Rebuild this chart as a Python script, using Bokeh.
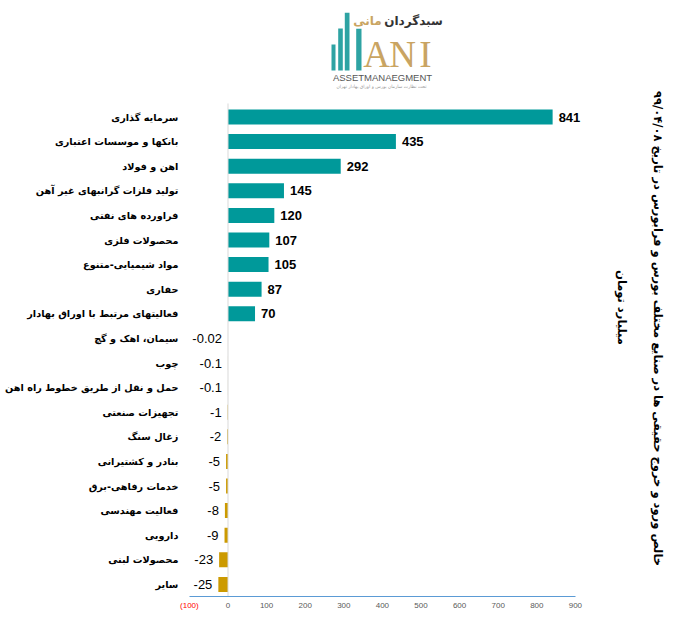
import math
from bokeh.plotting import figure
from bokeh.models import ColumnDataSource, FixedTicker, Range1d, LinearAxis
from bokeh.embed import file_html
from bokeh.resources import INLINE
from bokeh.core.properties import value

categories = [
    "سرمایه گذاری",
    "بانکها و موسسات اعتباری",
    "اهن و فولاد",
    "تولید فلزات گرانبهای غیر آهن",
    "فراورده های نفتی",
    "محصولات فلزی",
    "مواد شیمیایی-متنوع",
    "حفاری",
    "فعالیتهای مرتبط با اوراق بهادار",
    "سیمان، اهک و گچ",
    "چوب",
    "حمل و نقل از طریق خطوط راه اهن",
    "تجهیزات صنعتی",
    "زغال سنگ",
    "بنادر و کشتیرانی",
    "خدمات رفاهی-برق",
    "فعالیت مهندسی",
    "دارویی",
    "محصولات لبنی",
    "سایر",
]
values = [841, 435, 292, 145, 120, 107, 105, 87, 70,
          -0.02, -0.1, -0.1, -1, -2, -5, -5, -8, -9, -23, -25]
x_ticks = [-100, 0, 100, 200, 300, 400, 500, 600, 700, 800, 900]

title_text = "خالص ورود و خروج حقیقی ها در صنایع مختلف بورس و فرابورس در تاریخ ۹۹/۰۴/۰۸"
unit_text = "میلیارد تومان"
logo_fa_gold = "مانی"
logo_fa_dark = "سبدگردان"
logo_en = "ASSETMANAEGMENT"
logo_sub = "تحت نظارت سازمان بورس و اوراق بهادار تهران"
logo_letters = ["A", "N", "I"]

TEAL = "#00999a"
GOLD = "#cc9a00"
FA_FONT = "DejaVu Sans"

W, H = 692, 622
BOTTOM = 26
# layout constants (pixels)
ZERO_PX, SCALE = 227.5, 0.386      # x pixel of value 0, pixels per unit
ROW0_PX, ROW_PX = 116.5, 24.6      # y pixel of first row centre, row pitch

def X(pxv):
    return (pxv - ZERO_PX) / SCALE

def Y(pyv):
    return (pyv - ROW0_PX) / ROW_PX

n = len(categories)
rows = list(range(n))

p = figure(width=W, height=H, output_backend="svg", toolbar_location=None,
           x_range=Range1d(X(0), X(W)), y_range=Range1d(Y(H - BOTTOM), Y(0)),
           y_axis_location=None,
           min_border_left=0, min_border_right=0, min_border_top=0,
           min_border_bottom=BOTTOM)
p.outline_line_color = None
p.xgrid.visible = False
p.ygrid.visible = False
p.background_fill_color = "#ffffff"

colors = [TEAL if v >= 0 else GOLD for v in values]
labels = [f"{v:g}" for v in values]
src = ColumnDataSource(dict(row=rows, cat=categories, val=values,
                            color=colors, label=labels))
p.hbar(y="row", left=0, right="val", height=0.61, fill_color="color",
       line_color=None, source=src)

# zero line
p.segment(x0=[0], y0=[-0.55], x1=[0], y1=[n - 0.5], line_color="#d9d9d9", line_width=1)

# value labels
pos_idx = [i for i, v in enumerate(values) if v >= 0]
neg_idx = [i for i, v in enumerate(values) if v < 0]
pos = ColumnDataSource(dict(row=[rows[i] for i in pos_idx], val=[values[i] for i in pos_idx],
                            label=[labels[i] for i in pos_idx]))
neg = ColumnDataSource(dict(row=[rows[i] for i in neg_idx], val=[values[i] for i in neg_idx],
                            label=[labels[i] for i in neg_idx]))
p.text(x="val", y="row", text="label", source=pos, x_offset=6,
       text_align="left", text_baseline="middle", text_font=value("Liberation Sans"),
       text_font_style="bold", text_font_size="13px", text_color="#000000")
p.text(x="val", y="row", text="label", source=neg, x_offset=-6,
       text_align="right", text_baseline="middle", text_font=value("Liberation Sans"),
       text_font_size="13px", text_color="#000000")

# category labels
p.text(x=[x_ticks[0]] * n, y=rows, text=categories, x_offset=-11,
       text_align="right", text_baseline="middle", text_font=value(FA_FONT),
       text_font_style="bold", text_font_size="9.7px", text_color="#000000")

# x axis
ax = p.xaxis[0]
ax.ticker = FixedTicker(ticks=x_ticks)
ax.bounds = (x_ticks[0], x_ticks[-1])
ax.major_label_overrides = {x_ticks[0]: ""}
ax.axis_line_color = "#5b9bd5"
ax.major_tick_line_color = None
ax.minor_tick_line_color = None
ax.major_tick_out = 0
ax.major_tick_in = 0
ax.major_label_text_font_size = "8px"
ax.major_label_text_color = "#595959"
ax.major_label_text_font = "Liberation Sans"
ax.major_label_standoff = 6

ax2 = LinearAxis(ticker=FixedTicker(ticks=[x_ticks[0]]),
                 major_label_overrides={x_ticks[0]: f"({abs(x_ticks[0])})"},
                 axis_line_color=None, major_tick_line_color=None,
                 minor_tick_line_color=None, major_tick_out=0, major_tick_in=0,
                 major_label_text_color="#ff0000", major_label_text_font_size="8px",
                 major_label_text_font="Liberation Sans", major_label_standoff=-10)
p.add_layout(ax2, "below")

# right-side rotated titles
p.text(x=[X(657)], y=[Y(328)], text=[title_text], angle=-math.pi / 2,
       text_align="center", text_baseline="middle", text_font=value(FA_FONT),
       text_font_style="bold", text_font_size="11.5px", text_color="#000000")
p.text(x=[X(621)], y=[Y(307)], text=[unit_text], angle=-math.pi / 2,
       text_align="center", text_baseline="middle", text_font=value(FA_FONT),
       text_font_style="bold", text_font_size="11.5px", text_color="#000000")

# logo (decorative)
LOGO_TEAL = "#2ea3a3"
LOGO_GOLD = "#c9a462"
bl = [331, 337.7, 344.3, 355.7]
br = [335, 342.3, 349, 361]
bt = [44, 28, 12.3, 28.3]
p.quad(left=[X(v) for v in bl], right=[X(v) for v in br],
       top=[Y(v) for v in bt], bottom=[Y(70)] * 4,
       fill_color=LOGO_TEAL, line_color=None)
p.text(x=[X(376), X(402), X(425)], y=[Y(54)] * 3, text=logo_letters,
       text_align="center", text_baseline="middle",
       text_font=value("Liberation Serif"), text_font_size="37px", text_color=LOGO_GOLD)
p.text(x=[X(367)], y=[Y(20)], text=[logo_fa_gold], text_align="center",
       text_baseline="middle", text_font=value(FA_FONT), text_font_style="bold",
       text_font_size="12px", text_color=LOGO_GOLD)
p.text(x=[X(413)], y=[Y(20)], text=[logo_fa_dark], text_align="center",
       text_baseline="middle", text_font=value(FA_FONT), text_font_style="bold",
       text_font_size="12px", text_color="#333333")
p.text(x=[X(382)], y=[Y(77)], text=[logo_en], text_align="center",
       text_baseline="middle", text_font=value("Liberation Sans"),
       text_font_size="9.5px", text_color="#555555")
p.text(x=[X(381)], y=[Y(86)], text=[logo_sub], text_align="center",
       text_baseline="middle", text_font=value(FA_FONT),
       text_font_size="4.5px", text_color="#999999")

open("out.html", "w").write(file_html(p, INLINE))
